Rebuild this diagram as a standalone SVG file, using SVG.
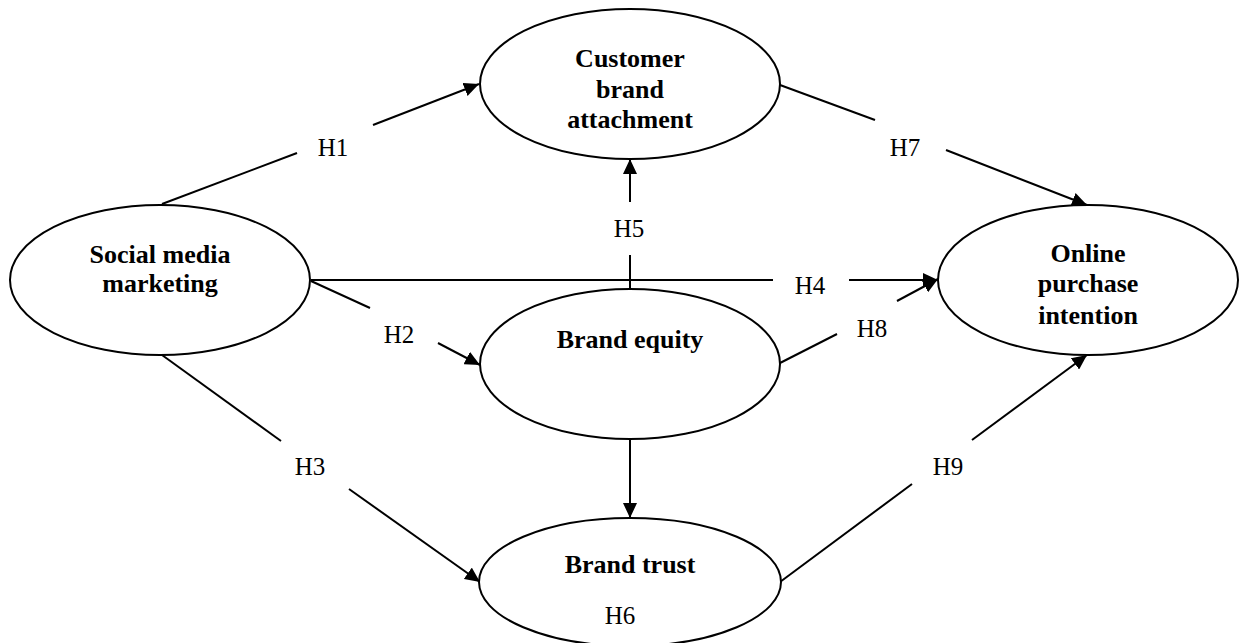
<svg xmlns="http://www.w3.org/2000/svg" width="1239" height="643" viewBox="0 0 1239 643">
<style>
.node{fill:#fff;stroke:#000;stroke-width:2}
.t{font-family:"Liberation Serif","Times New Roman",serif;font-weight:bold;font-size:26px;text-anchor:middle;fill:#000}
.lb{font-family:"Liberation Serif","Times New Roman",serif;font-size:25px;text-anchor:middle;fill:#000}
.c{stroke:#000;stroke-width:2;fill:none}
</style>
<defs>
<marker id="ah" viewBox="0 0 15 14" refX="15" refY="7" markerWidth="15" markerHeight="14" markerUnits="userSpaceOnUse" orient="auto">
<path d="M0,0 L15,7 L0,14 z" fill="#000"/>
</marker>
<clipPath id="clipCBA"><rect x="480" y="10" width="300" height="119"/></clipPath>
<clipPath id="clipOPI"><rect x="940" y="206" width="298" height="118"/></clipPath>
</defs>
<rect width="1239" height="643" fill="#fff"/>
<g id="connectors">
<line class="c" x1="162" y1="204" x2="297" y2="153"/>
<line class="c" x1="373" y1="125" x2="479" y2="84" marker-end="url(#ah)"/>
<line class="c" x1="780" y1="85" x2="875" y2="120"/>
<line class="c" x1="946" y1="150" x2="1087" y2="205" marker-end="url(#ah)"/>
<line class="c" x1="311" y1="280" x2="773" y2="280"/>
<line class="c" x1="849" y1="280" x2="938" y2="280" marker-end="url(#ah)"/>
<line class="c" x1="630" y1="289" x2="630" y2="255"/>
<line class="c" x1="630" y1="202" x2="630" y2="159" marker-end="url(#ah)"/>
<line class="c" x1="311" y1="281" x2="370" y2="308"/>
<line class="c" x1="438" y1="343" x2="480" y2="365" marker-end="url(#ah)"/>
<line class="c" x1="780" y1="363" x2="837" y2="334"/>
<line class="c" x1="897" y1="301" x2="938" y2="279" marker-end="url(#ah)"/>
<line class="c" x1="162" y1="355" x2="281" y2="441"/>
<line class="c" x1="349" y1="489" x2="480" y2="582" marker-end="url(#ah)"/>
<line class="c" x1="630" y1="439" x2="630" y2="518" marker-end="url(#ah)"/>
<line class="c" x1="780" y1="582" x2="912" y2="484"/>
<line class="c" x1="972" y1="440" x2="1087" y2="355" marker-end="url(#ah)"/>
</g>
<g id="labels">
<text class="lb" x="333" y="156">H1</text>
<text class="lb" x="905" y="156">H7</text>
<text class="lb" x="629" y="237">H5</text>
<text class="lb" x="810" y="294">H4</text>
<text class="lb" x="399" y="343">H2</text>
<text class="lb" x="872" y="337">H8</text>
<text class="lb" x="310" y="475">H3</text>
<text class="lb" x="948" y="475">H9</text>
</g>
<g id="node-smm">
<ellipse class="node" cx="160" cy="280" rx="150" ry="75"/>
<text class="t" x="160" y="263">Social media</text>
<text class="t" x="160" y="292">marketing</text>
</g>
<g id="node-cba">
<ellipse class="node" cx="630" cy="84" rx="150" ry="75"/>
<g clip-path="url(#clipCBA)">
<text class="t" x="630" y="67">Customer</text>
<text class="t" x="630" y="98">brand</text>
<text class="t" x="630" y="128">attachment</text>
</g>
</g>
<g id="node-opi">
<ellipse class="node" cx="1088" cy="280" rx="150" ry="75"/>
<g clip-path="url(#clipOPI)">
<text class="t" x="1088" y="262">Online</text>
<text class="t" x="1088" y="292">purchase</text>
<text class="t" x="1088" y="324">intention</text>
</g>
</g>
<g id="node-be">
<ellipse class="node" cx="630" cy="364" rx="150" ry="75"/>
<text class="t" x="630" y="348">Brand equity</text>
</g>
<g id="node-bt">
<ellipse class="node" cx="630" cy="582" rx="151" ry="64"/>
<text class="t" x="630" y="573">Brand trust</text>
<text class="lb" x="620" y="624">H6</text>
</g>
</svg>
